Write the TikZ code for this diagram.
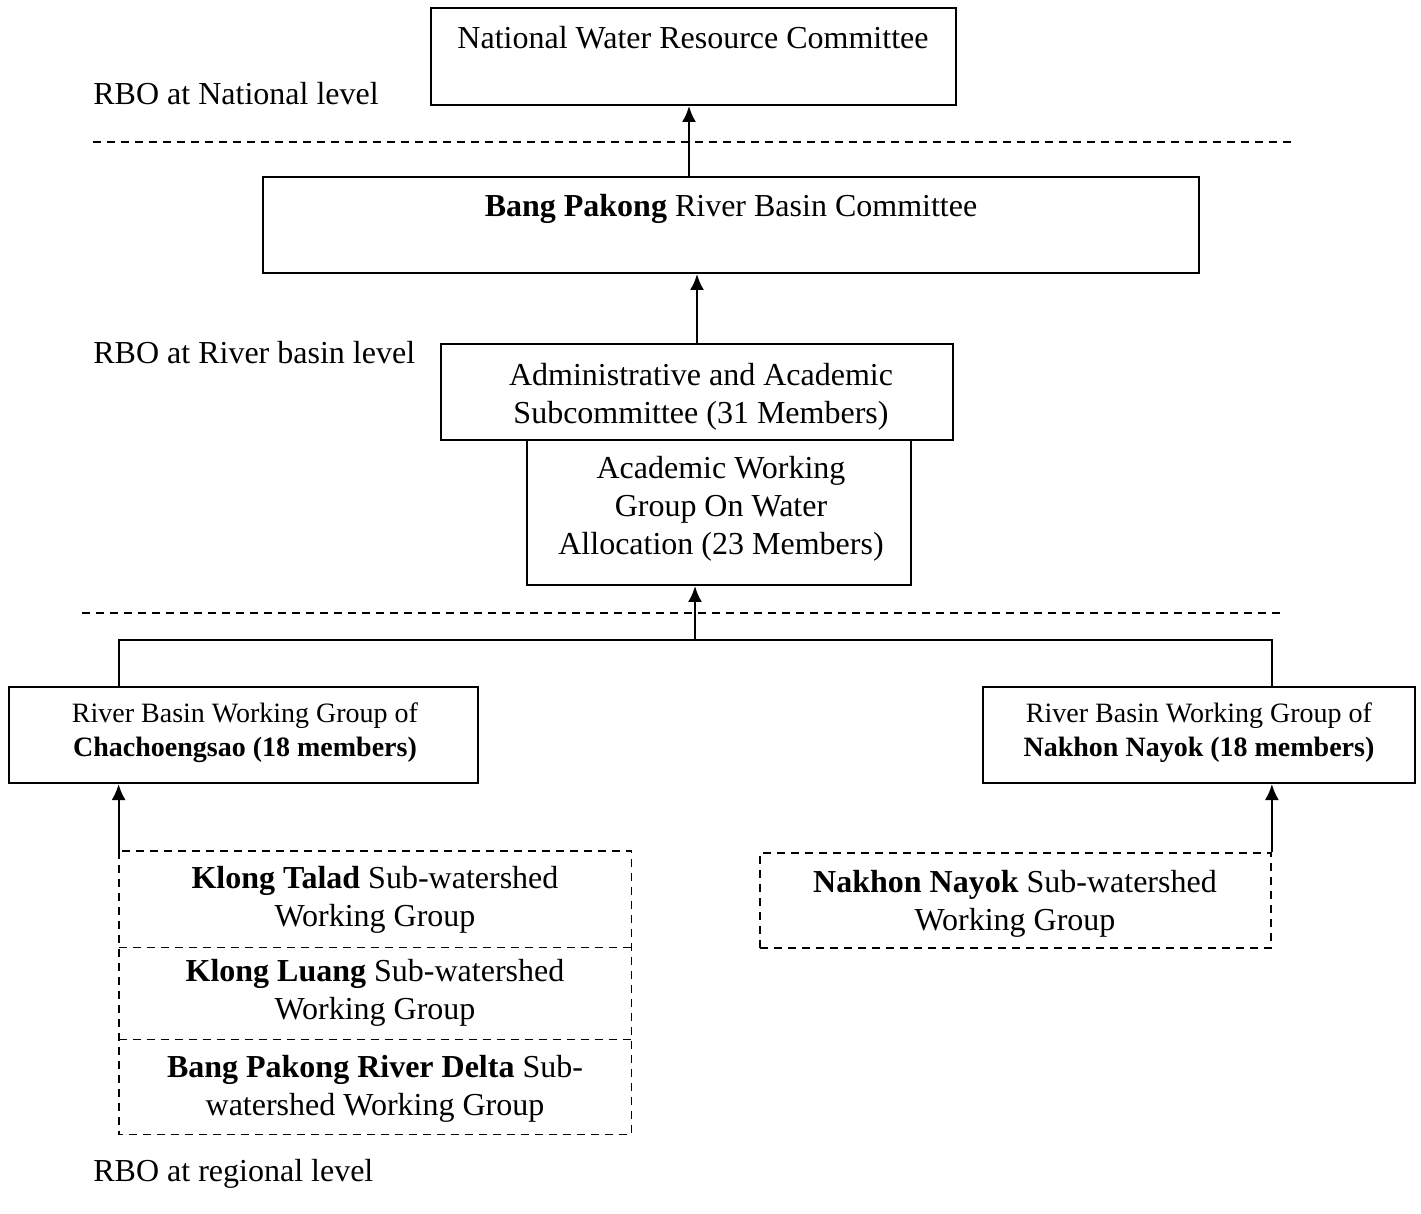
\documentclass[tikz,border=0pt]{standalone}
\usepackage{fontspec}
\setmainfont{Liberation Serif}
\usetikzlibrary{arrows.meta,fit}
\begin{document}
\begin{tikzpicture}[x=0.5pt,y=-0.5pt,
  box/.style={draw, line width=1pt, inner sep=0pt},
  dbox/.style={draw, line width=0.9pt, dash pattern=on 4pt off 3pt, inner sep=0pt},
  plain/.style={inner sep=0pt},
  dline/.style={line width=0.9pt, dash pattern=on 4pt off 3pt},
  txt/.style={inner sep=0pt, align=center, font=\fontsize{16pt}{19pt}\selectfont},
  stxt/.style={inner sep=0pt, align=center, font=\fontsize{14pt}{17pt}\selectfont},
  lbl/.style={inner sep=0pt, anchor=base west, font=\fontsize{16pt}{19pt}\selectfont},
  sep/.style={line width=0.8pt, dash pattern=on 4pt off 3pt},
  conn/.style={line width=1pt},
  arr/.style={line width=1.1pt, -{Latex[length=8pt,width=7pt]}}]
\useasboundingbox (0,0) rectangle (1421,1214);
% boxes
\node[box, fit={(431,8)(956,105)}] (nat) {};
\node[box, fit={(263,177)(1199,273)}] (bang) {};
\node[box, fit={(441,344)(953,440)}] (adm) {};
\node[box, fit={(527,440)(911,585)}] (acad) {};
\node[box, fit={(9,687)(478,783)}] (chach) {};
\node[box, fit={(983,687)(1415,783)}] (nak) {};
\node[plain, fit={(119,851)(631,947)}] (s1) {};
\node[plain, fit={(119,947)(631,1039)}] (s2) {};
\node[plain, fit={(119,1039)(631,1134)}] (s3) {};
\draw[dline] (s1.north west) rectangle (s3.south east);
\draw[dline] (s1.south west) -- (s1.south east);
\draw[dline] (s2.south west) -- (s2.south east);
\node[dbox, fit={(760,853)(1271,948)}] (nsub) {};
% texts
\node[txt, anchor=base] (natT) at (693,49) {National Water Resource Committee};
\node[txt, anchor=base] (bangT) at (731,217) {\textbf{Bang Pakong} River Basin Committee};
\node[txt] (admT) at (701,397) {Administrative and Academic\\Subcommittee (31 Members)};
\node[txt] (acadT) at (721,509) {Academic Working\\Group On Water\\Allocation (23 Members)};
\node[stxt] (chachT) at (245,733) {River Basin Working Group of\\\textbf{Chachoengsao (18 members)}};
\node[stxt] (nakT) at (1199,733) {River Basin Working Group of\\\textbf{Nakhon Nayok (18 members)}};
\node[txt] (s1T) at (375,900) {\textbf{Klong Talad} Sub-watershed\\Working Group};
\node[txt] (s2T) at (375,993) {\textbf{Klong Luang} Sub-watershed\\Working Group};
\node[txt] (s3T) at (375,1089) {\textbf{Bang Pakong River Delta} Sub-\\watershed Working Group};
\node[txt] (nsubT) at (1015,904) {\textbf{Nakhon Nayok} Sub-watershed\\Working Group};
\node[lbl] (l1) at (93,105) {RBO at National level};
\node[lbl] (l2) at (93,364) {RBO at River basin level};
\node[lbl] (l3) at (93,1181) {RBO at regional level};
% separators
\coordinate (d1a) at (93,142); \coordinate (d1b) at (1293,142);
\coordinate (d2a) at (82,613); \coordinate (d2b) at (1280,613);
\draw[sep] (d1a) -- (d1b);
\draw[sep] (d2a) -- (d2b);
% connectors
\coordinate (a1) at (689,0);
\draw[arr] (a1 |- bang.north) -- (a1 |- nat.south);
\draw[arr] (adm.north) -- (adm.north |- bang.south);
\coordinate (hl) at (119,640);
\coordinate (hr) at (1272,640);
\coordinate (hj) at (695,640);
\draw[conn] (hl |- chach.north) -- (hl) -- (hr) -- (hr |- nak.north);
\draw[arr] (hj) -- (hj |- acad.south);
\draw[arr] (s1.north west) -- (s1.north west |- chach.south);
\draw[arr] (nsub.north east) -- (nsub.north east |- nak.south);
\end{tikzpicture}
\end{document}
